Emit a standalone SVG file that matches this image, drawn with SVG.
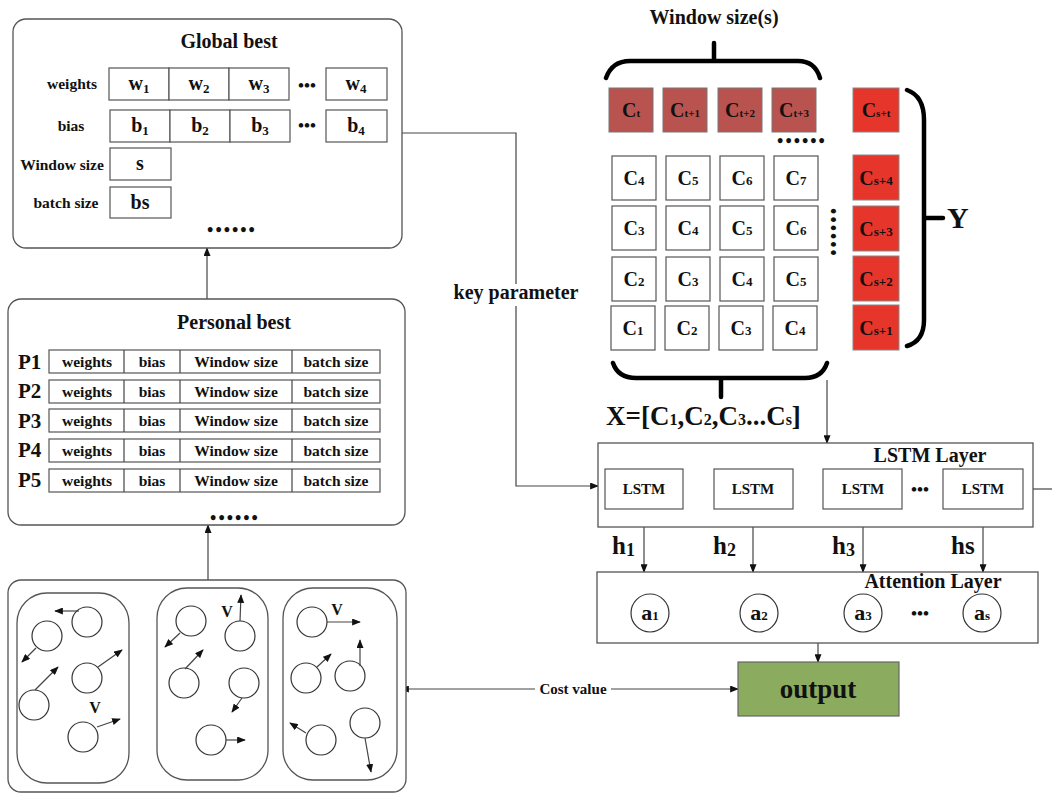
<svg xmlns="http://www.w3.org/2000/svg" width="1052" height="795" viewBox="0 0 1052 795">
<defs>
<style>
text{font-family:"Liberation Serif","Times New Roman",serif;font-weight:bold;fill:#111;}
.box{fill:#fff;stroke:#555;stroke-width:1.3;}
.cell{fill:#fff;stroke:#555;stroke-width:1.2;}
.dark{fill:#b9534f;stroke:#777;stroke-width:1;}
.red{fill:#e6352b;stroke:#888;stroke-width:1;}
.ln{fill:none;stroke:#444;stroke-width:1.2;}
.brace{fill:none;stroke:#000;stroke-width:4.5;stroke-linecap:round;}
.pc{fill:#fff;stroke:#333;stroke-width:1.2;}
.t20{font-size:20px;}
.t15{font-size:15.5px;}
.c{text-anchor:middle;}
.cc{font-size:20px;text-anchor:middle;}
.s13{font-size:13px;}
.s12{font-size:11px;}
.dots{font-size:18px;letter-spacing:2px;text-anchor:middle;}
</style>
<marker id="ah" viewBox="0 0 10 8" refX="9" refY="4" markerWidth="9" markerHeight="7" markerUnits="userSpaceOnUse" orient="auto">
<path d="M0,0 L10,4 L0,8 z" fill="#111"/>
</marker>
<marker id="ahs" viewBox="0 0 10 8" refX="1" refY="4" markerWidth="9" markerHeight="7" markerUnits="userSpaceOnUse" orient="auto-start-reverse">
<path d="M0,0 L10,4 L0,8 z" fill="#111"/>
</marker>
</defs>
<rect width="1052" height="795" fill="#fff"/>

<g id="connectors">
<path class="ln" d="M207,299 V248" marker-end="url(#ah)"/>
<path class="ln" d="M208,580 V525" marker-end="url(#ah)"/>
<path class="ln" d="M402,133 H516 V486 H598" marker-end="url(#ah)"/>
<path class="ln" d="M827,380 V443" marker-end="url(#ah)"/>
<path class="ln" d="M683,489 H714" marker-end="url(#ah)"/>
<path class="ln" d="M793,489 H823" marker-end="url(#ah)"/>
<path class="ln" d="M1023,489 H1052"/>
<path class="ln" d="M644,509 V572" marker-end="url(#ah)"/>
<path class="ln" d="M753,509 V572" marker-end="url(#ah)"/>
<path class="ln" d="M863,509 V572" marker-end="url(#ah)"/>
<path class="ln" d="M983,509 V572" marker-end="url(#ah)"/>
<path class="ln" d="M818,643 V662" marker-end="url(#ah)"/>
<path class="ln" d="M408,689 H738" marker-start="url(#ahs)" marker-end="url(#ah)"/>
<rect x="535" y="679" width="76" height="18" fill="#fff"/>
<text x="573" y="694" class="c" style="font-size:15px">Cost value</text>
<rect x="450" y="284" width="132" height="22" fill="#fff"/>
<text x="516" y="299" class="c t20">key parameter</text>
</g>

<g id="global-best">
<rect class="box" x="13" y="19" width="389" height="229" rx="13"/>
<text x="229" y="48" class="c t20">Global best</text>
<text x="72" y="89" class="c t15">weights</text>
<text x="71" y="131" class="c t15">bias</text>
<text x="62" y="170" class="c t15">Window size</text>
<text x="66" y="208" class="c t15">batch size</text>
<rect class="cell" x="109" y="68" width="60" height="32"/>
<rect class="cell" x="169" y="68" width="60" height="32"/>
<rect class="cell" x="229" y="68" width="60" height="32"/>
<rect class="cell" x="326" y="68" width="61" height="32"/>
<text x="139" y="90" class="cc">w<tspan class="s13" dy="3">1</tspan></text>
<text x="199" y="90" class="cc">w<tspan class="s13" dy="3">2</tspan></text>
<text x="259" y="90" class="cc">w<tspan class="s13" dy="3">3</tspan></text>
<text x="356" y="90" class="cc">w<tspan class="s13" dy="3">4</tspan></text>
<text x="307" y="91" class="c" style="font-size:17px">•••</text>
<rect class="cell" x="110" y="110" width="60" height="32"/>
<rect class="cell" x="170" y="110" width="60" height="32"/>
<rect class="cell" x="230" y="110" width="60" height="32"/>
<rect class="cell" x="326" y="110" width="61" height="32"/>
<text x="140" y="132" class="cc">b<tspan class="s13" dy="3">1</tspan></text>
<text x="200" y="132" class="cc">b<tspan class="s13" dy="3">2</tspan></text>
<text x="260" y="132" class="cc">b<tspan class="s13" dy="3">3</tspan></text>
<text x="356" y="132" class="cc">b<tspan class="s13" dy="3">4</tspan></text>
<text x="307" y="131" class="c" style="font-size:17px">•••</text>
<rect class="cell" x="110" y="148" width="61" height="32"/>
<text x="140" y="170" class="cc">s</text>
<rect class="cell" x="110" y="187" width="61" height="31"/>
<text x="140" y="209" class="cc">bs</text>
<text x="232" y="236" class="dots">••••••</text>
</g>

<g id="personal-best">
<rect class="box" x="8" y="299" width="397" height="226" rx="13"/>
<text x="234" y="329" class="c t20">Personal best</text>
<g style="font-size:21px">
<text x="18" y="369">P1</text>
<text x="18" y="398">P2</text>
<text x="18" y="428">P3</text>
<text x="18" y="457">P4</text>
<text x="18" y="487">P5</text>
</g>
<g>
<rect class="cell" x="49" y="350" width="331" height="23"/><path class="ln" d="M124,350v23M180,350v23M292,350v23"/>
<rect class="cell" x="49" y="380" width="331" height="23"/><path class="ln" d="M124,380v23M180,380v23M292,380v23"/>
<rect class="cell" x="49" y="409" width="331" height="23"/><path class="ln" d="M124,409v23M180,409v23M292,409v23"/>
<rect class="cell" x="49" y="439" width="331" height="23"/><path class="ln" d="M124,439v23M180,439v23M292,439v23"/>
<rect class="cell" x="49" y="469" width="331" height="23"/><path class="ln" d="M124,469v23M180,469v23M292,469v23"/>
</g>
<g>
<text x="87" y="367" class="c t15">weights</text><text x="152" y="367" class="c t15">bias</text><text x="236" y="367" class="c t15">Window size</text><text x="336" y="367" class="c t15">batch size</text>
<text x="87" y="397" class="c t15">weights</text><text x="152" y="397" class="c t15">bias</text><text x="236" y="397" class="c t15">Window size</text><text x="336" y="397" class="c t15">batch size</text>
<text x="87" y="426" class="c t15">weights</text><text x="152" y="426" class="c t15">bias</text><text x="236" y="426" class="c t15">Window size</text><text x="336" y="426" class="c t15">batch size</text>
<text x="87" y="456" class="c t15">weights</text><text x="152" y="456" class="c t15">bias</text><text x="236" y="456" class="c t15">Window size</text><text x="336" y="456" class="c t15">batch size</text>
<text x="87" y="486" class="c t15">weights</text><text x="152" y="486" class="c t15">bias</text><text x="236" y="486" class="c t15">Window size</text><text x="336" y="486" class="c t15">batch size</text>
</g>
<text x="235" y="524" class="dots">••••••</text>
</g>

<g id="particles">
<rect class="box" x="8" y="580" width="398" height="212" rx="13"/>
<rect class="box" x="17" y="593" width="112" height="190" rx="30"/>
<rect class="box" x="157" y="588" width="111" height="192" rx="30"/>
<rect class="box" x="283" y="588" width="114" height="192" rx="30"/>
<g>
<circle class="pc" cx="87" cy="622" r="15"/>
<circle class="pc" cx="47" cy="636" r="15"/>
<circle class="pc" cx="87" cy="678" r="15"/>
<circle class="pc" cx="34" cy="705" r="15"/>
<circle class="pc" cx="83" cy="737" r="15"/>
<circle class="pc" cx="191" cy="621" r="15"/>
<circle class="pc" cx="240" cy="636" r="15"/>
<circle class="pc" cx="184" cy="683" r="15"/>
<circle class="pc" cx="244" cy="683" r="15"/>
<circle class="pc" cx="211" cy="740" r="15"/>
<circle class="pc" cx="312" cy="622" r="15"/>
<circle class="pc" cx="306" cy="678" r="15"/>
<circle class="pc" cx="350" cy="676" r="15"/>
<circle class="pc" cx="321" cy="740" r="15"/>
<circle class="pc" cx="365" cy="723" r="15"/>
</g>
<g>
<path class="ln" d="M79,611 L55,611" marker-end="url(#ah)"/>
<path class="ln" d="M36,648 L22,662" marker-end="url(#ah)"/>
<path class="ln" d="M98,667 L122,650" marker-end="url(#ah)"/>
<path class="ln" d="M35,690 L58,667" marker-end="url(#ah)"/>
<path class="ln" d="M97,727 L120,719" marker-end="url(#ah)"/>
<path class="ln" d="M180,633 L165,647" marker-end="url(#ah)"/>
<path class="ln" d="M240,621 L241,595" marker-end="url(#ah)"/>
<path class="ln" d="M185,669 L203,650" marker-end="url(#ah)"/>
<path class="ln" d="M242,698 L232,712" marker-end="url(#ah)"/>
<path class="ln" d="M226,740 L245,740" marker-end="url(#ah)"/>
<path class="ln" d="M327,622 L360,622" marker-end="url(#ah)"/>
<path class="ln" d="M317,667 L331,654" marker-end="url(#ah)"/>
<path class="ln" d="M360,666 L360,640" marker-end="url(#ah)"/>
<path class="ln" d="M306,733 L290,723" marker-end="url(#ah)"/>
<path class="ln" d="M365,738 L371,772" marker-end="url(#ah)"/>
</g>
<text x="95" y="713" class="c" style="font-size:16px">V</text>
<text x="227" y="617" class="c" style="font-size:16px">V</text>
<text x="337" y="615" class="c" style="font-size:16px">V</text>
</g>

<g id="window-matrix">
<text x="714" y="24" class="c t20">Window size(s)</text>
<path class="brace" d="M606,78 Q612,61 630,61 L798,61 Q815,61 820,78 M714,43 V61"/>
<rect class="dark" x="609" y="88" width="44" height="44"/>
<rect class="dark" x="663" y="88" width="44" height="44"/>
<rect class="dark" x="718" y="88" width="44" height="44"/>
<rect class="dark" x="772" y="88" width="44" height="44"/>
<text x="631" y="117" class="cc">C<tspan class="s12">t</tspan></text>
<text x="685" y="117" class="cc">C<tspan class="s12">t+1</tspan></text>
<text x="740" y="117" class="cc">C<tspan class="s12">t+2</tspan></text>
<text x="794" y="117" class="cc">C<tspan class="s12">t+3</tspan></text>
<text x="802" y="147" class="dots">••••••</text>
<text transform="translate(827,233) rotate(90)" class="dots">••••••</text>
<g>
<rect class="cell" x="612" y="156" width="44" height="44"/><rect class="cell" x="666" y="156" width="44" height="44"/><rect class="cell" x="720" y="156" width="44" height="44"/><rect class="cell" x="774" y="156" width="44" height="44"/>
<rect class="cell" x="612" y="206" width="44" height="44"/><rect class="cell" x="666" y="206" width="44" height="44"/><rect class="cell" x="720" y="206" width="44" height="44"/><rect class="cell" x="774" y="206" width="44" height="44"/>
<rect class="cell" x="612" y="257" width="44" height="44"/><rect class="cell" x="666" y="257" width="44" height="44"/><rect class="cell" x="720" y="257" width="44" height="44"/><rect class="cell" x="774" y="257" width="44" height="44"/>
<rect class="cell" x="611" y="306" width="44" height="44"/><rect class="cell" x="665" y="306" width="44" height="44"/><rect class="cell" x="719" y="306" width="44" height="44"/><rect class="cell" x="773" y="306" width="44" height="44"/>
</g>
<g>
<text x="634" y="185" class="cc">C<tspan class="s13">4</tspan></text><text x="688" y="185" class="cc">C<tspan class="s13">5</tspan></text><text x="742" y="185" class="cc">C<tspan class="s13">6</tspan></text><text x="796" y="185" class="cc">C<tspan class="s13">7</tspan></text>
<text x="634" y="235" class="cc">C<tspan class="s13">3</tspan></text><text x="688" y="235" class="cc">C<tspan class="s13">4</tspan></text><text x="742" y="235" class="cc">C<tspan class="s13">5</tspan></text><text x="796" y="235" class="cc">C<tspan class="s13">6</tspan></text>
<text x="634" y="286" class="cc">C<tspan class="s13">2</tspan></text><text x="688" y="286" class="cc">C<tspan class="s13">3</tspan></text><text x="742" y="286" class="cc">C<tspan class="s13">4</tspan></text><text x="796" y="286" class="cc">C<tspan class="s13">5</tspan></text>
<text x="633" y="335" class="cc">C<tspan class="s13">1</tspan></text><text x="687" y="335" class="cc">C<tspan class="s13">2</tspan></text><text x="741" y="335" class="cc">C<tspan class="s13">3</tspan></text><text x="795" y="335" class="cc">C<tspan class="s13">4</tspan></text>
</g>
<rect class="red" x="853" y="88" width="46" height="44"/>
<rect class="red" x="853" y="155" width="46" height="45"/>
<rect class="red" x="853" y="206" width="46" height="45"/>
<rect class="red" x="853" y="256" width="46" height="45"/>
<rect class="red" x="853" y="305" width="46" height="45"/>
<text x="876" y="117" class="cc">C<tspan class="s12">s+t</tspan></text>
<text x="876" y="185" class="cc">C<tspan class="s13">s+4</tspan></text>
<text x="876" y="236" class="cc">C<tspan class="s13">s+3</tspan></text>
<text x="876" y="286" class="cc">C<tspan class="s13">s+2</tspan></text>
<text x="876" y="335" class="cc">C<tspan class="s13">s+1</tspan></text>
<path class="brace" d="M907,90 Q924,96 924,120 L924,320 Q924,341 907,346 M924,218 H943"/>
<text x="947" y="228" style="font-size:30px">Y</text>
<path class="brace" d="M613,363 Q618,378 636,378 L805,378 Q822,378 827,363 M721,378 V397"/>
<text x="606" y="425" style="font-size:27px">X=[C<tspan style="font-size:16px">1</tspan>,C<tspan style="font-size:16px">2</tspan>,C<tspan style="font-size:16px">3</tspan>...C<tspan style="font-size:16px">s</tspan>]</text>
</g>

<g id="lstm-layer">
<rect class="box" x="598" y="443" width="435" height="84"/>
<text x="930" y="462" class="c t20">LSTM Layer</text>
<rect class="cell" x="605" y="469" width="78" height="40"/>
<rect class="cell" x="714" y="469" width="79" height="40"/>
<rect class="cell" x="823" y="469" width="79" height="40"/>
<rect class="cell" x="943" y="469" width="80" height="40"/>
<text x="644" y="494" class="c" style="font-size:15px">LSTM</text>
<text x="753" y="494" class="c" style="font-size:15px">LSTM</text>
<text x="863" y="494" class="c" style="font-size:15px">LSTM</text>
<text x="983" y="494" class="c" style="font-size:15px">LSTM</text>
<text x="920" y="495" class="c" style="font-size:17px">•••</text>
</g>

<g id="h-labels">
<text x="612" y="554" style="font-size:25px">h<tspan style="font-size:18px" dy="2">1</tspan></text>
<text x="713" y="554" style="font-size:25px">h<tspan style="font-size:18px" dy="2">2</tspan></text>
<text x="832" y="554" style="font-size:25px">h<tspan style="font-size:18px" dy="2">3</tspan></text>
<text x="951" y="554" style="font-size:25px">hs</text>
</g>

<g id="attention-layer">
<rect class="box" x="597" y="572" width="441" height="71"/>
<text x="933" y="588" class="c t20">Attention Layer</text>
<circle class="pc" cx="650" cy="613" r="19"/>
<circle class="pc" cx="759" cy="613" r="19"/>
<circle class="pc" cx="863" cy="613" r="19"/>
<circle class="pc" cx="982" cy="613" r="19"/>
<text x="650" y="620" class="c" style="font-size:22px">a<tspan style="font-size:13px">1</tspan></text>
<text x="759" y="620" class="c" style="font-size:22px">a<tspan style="font-size:13px">2</tspan></text>
<text x="863" y="620" class="c" style="font-size:22px">a<tspan style="font-size:13px">3</tspan></text>
<text x="982" y="620" class="c" style="font-size:22px">a<tspan style="font-size:13px">s</tspan></text>
<text x="920" y="619" class="c" style="font-size:17px">•••</text>
</g>

<g id="output">
<rect x="738" y="662" width="161" height="54" fill="#8bab5e" stroke="#666" stroke-width="1.2"/>
<text x="818" y="698" class="c" style="font-size:27px">output</text>
</g>
</svg>
